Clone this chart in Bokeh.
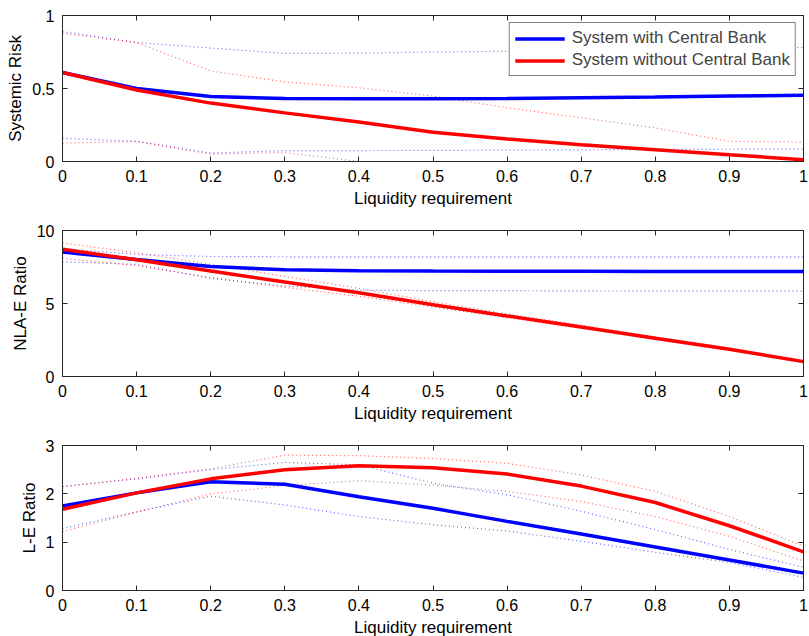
from bokeh.plotting import figure
from bokeh.layouts import column
from bokeh.models import (LinearAxis, FixedTicker, Range1d, Legend, LegendItem,
                          CustomJSTickFormatter)
from bokeh.embed import file_html
from bokeh.resources import INLINE

# ---------------- data ----------------
liquidity = [0.0, 0.1, 0.2, 0.3, 0.4, 0.5, 0.6, 0.7, 0.8, 0.9, 1.0]
x_ticks = [0.0, 0.1, 0.2, 0.3, 0.4, 0.5, 0.6, 0.7, 0.8, 0.9, 1.0]
x_tick_labels = ["0", "0.1", "0.2", "0.3", "0.4", "0.5", "0.6", "0.7", "0.8", "0.9", "1"]
x_title = "Liquidity requirement"
series_names = ["System with Central Bank", "System without Central Bank"]

# Systemic risk
risk_cb = [0.61, 0.50, 0.445, 0.432, 0.43, 0.43, 0.432, 0.437, 0.442, 0.448, 0.453]
risk_cb_hi = [0.89, 0.815, 0.777, 0.74, 0.742, 0.75, 0.755, 0.76, 0.768, 0.775, 0.78]
risk_cb_lo = [0.16, 0.138, 0.058, 0.075, 0.075, 0.076, 0.078, 0.08, 0.082, 0.084, 0.085]
risk_nocb = [0.61, 0.49, 0.40, 0.333, 0.271, 0.20, 0.154, 0.115, 0.081, 0.046, 0.012]
risk_nocb_hi = [0.878, 0.815, 0.62, 0.545, 0.505, 0.448, 0.368, 0.299, 0.23, 0.138, 0.133]
risk_nocb_lo = [0.126, 0.138, 0.05, 0.062, 0.0, -0.04, -0.07, -0.08, -0.09, -0.05, -0.1]
risk_ticks = [0, 0.5, 1]
risk_tick_labels = ["0", "0.5", "1"]

# NLA-E ratio
nla_cb = [8.52, 8.02, 7.54, 7.31, 7.24, 7.22, 7.21, 7.21, 7.2, 7.2, 7.2]
nla_cb_hi = [8.75, 8.36, 8.22, 8.2, 8.2, 8.2, 8.2, 8.2, 8.2, 8.2, 8.2]
nla_cb_lo = [7.86, 7.68, 6.72, 6.2, 5.92, 5.88, 5.88, 5.86, 5.85, 5.85, 5.85]
nla_nocb = [8.72, 7.99, 7.22, 6.47, 5.74, 4.92, 4.15, 3.39, 2.62, 1.87, 1.02]
nla_nocb_hi = [9.15, 8.47, 7.68, 6.85, 6.04, 5.12, 4.3, 3.5, 2.72, 1.95, 1.1]
nla_nocb_lo = [8.09, 7.6, 6.78, 6.1, 5.5, 4.75, 4.02, 3.3, 2.52, 1.79, 0.95]
nla_ticks = [0, 5, 10]
nla_tick_labels = ["0", "5", "10"]

# L-E ratio
le_cb = [1.75, 2.02, 2.25, 2.2, 1.94, 1.70, 1.43, 1.17, 0.90, 0.63, 0.36]
le_cb_hi = [2.15, 2.31, 2.5, 2.65, 2.6, 2.22, 1.98, 1.64, 1.26, 0.85, 0.48]
le_cb_lo = [1.28, 1.63, 1.95, 1.77, 1.53, 1.36, 1.23, 1.02, 0.79, 0.58, 0.27]
le_nocb = [1.68, 2.02, 2.31, 2.5, 2.58, 2.54, 2.41, 2.16, 1.82, 1.34, 0.80]
le_nocb_hi = [2.15, 2.32, 2.52, 2.8, 2.79, 2.73, 2.63, 2.39, 2.05, 1.53, 0.92]
le_nocb_lo = [1.22, 1.62, 2.0, 2.17, 2.27, 2.18, 2.05, 1.84, 1.53, 1.12, 0.61]
le_ticks = [0, 1, 2, 3]
le_tick_labels = ["0", "1", "2", "3"]

FONT = "Liberation Sans"
AX = "#262626"
BLUE = "#0000ff"
RED = "#ff0000"


def style_axis(ax, ticks, labels, standoff, show_labels=True):
    ax.ticker = FixedTicker(ticks=ticks)
    ax.major_tick_in = 5
    ax.major_tick_out = 0
    ax.minor_tick_in = 0
    ax.minor_tick_out = 0
    ax.axis_line_color = AX
    ax.major_tick_line_color = AX
    if show_labels:
        ax.major_label_overrides = dict(zip(ticks, labels))
        ax.major_label_text_font = FONT
        ax.major_label_text_font_size = "16px"
        ax.major_label_text_line_height = 1.0
        ax.major_label_text_color = "black"
        ax.major_label_standoff = standoff
        ax.axis_label_text_font = FONT
        ax.axis_label_text_font_size = "17px"
        ax.axis_label_text_line_height = 1.0
        ax.axis_label_text_font_style = "normal"
        ax.axis_label_text_color = "black"
    else:
        ax.formatter = CustomJSTickFormatter(code="return ''")
        ax.major_label_text_font_size = "0px"
        ax.major_label_standoff = 0


def panel(ylabel, yr, yticks, ylabels, cb, cb_hi, cb_lo, nocb, nocb_hi, nocb_lo,
          fh, bottom, legend=False):
    p = figure(frame_width=741, frame_height=fh,
               x_range=Range1d(0, 1), y_range=Range1d(*yr),
               output_backend="svg", toolbar_location=None,
               min_border_left=62, min_border_right=6,
               min_border_top=15, min_border_bottom=bottom)
    p.grid.visible = False
    p.outline_line_color = AX
    p.outline_line_width = 1
    p.background_fill_color = "white"
    p.border_fill_color = "white"

    style_axis(p.xaxis[0], x_ticks, x_tick_labels, 8)
    p.xaxis[0].axis_label = x_title
    p.xaxis[0].axis_label_standoff = 4
    style_axis(p.yaxis[0], yticks, ylabels, 8)
    p.yaxis[0].axis_label = ylabel
    p.yaxis[0].axis_label_standoff = 4

    top = LinearAxis()
    style_axis(top, x_ticks, x_tick_labels, 0, show_labels=False)
    p.add_layout(top, "above")
    right = LinearAxis()
    style_axis(right, yticks, ylabels, 0, show_labels=False)
    p.add_layout(right, "right")

    dot = dict(line_width=1.2, line_dash="1 3", line_alpha=0.6)
    p.line(liquidity, cb_hi, line_color=BLUE, **dot)
    p.line(liquidity, cb_lo, line_color=BLUE, **dot)
    p.line(liquidity, nocb_hi, line_color=RED, **dot)
    p.line(liquidity, nocb_lo, line_color=RED, **dot)
    r_cb = p.line(liquidity, cb, line_color=BLUE, line_width=3.5)
    r_nocb = p.line(liquidity, nocb, line_color=RED, line_width=3.5)

    if legend:
        lg = Legend(items=[LegendItem(label=series_names[0], renderers=[r_cb]),
                           LegendItem(label=series_names[1], renderers=[r_nocb])],
                    location="top_right", margin=7, padding=5, spacing=2,
                    glyph_width=50, glyph_height=19, label_height=19,
                    label_standoff=7, label_text_font=FONT,
                    label_text_font_size="17px",
                    border_line_color="black", border_line_width=1,
                    background_fill_color="white", background_fill_alpha=1)
        p.add_layout(lg, "center")
    return p


p1 = panel("Systemic Risk", (0, 1), risk_ticks, risk_tick_labels,
           risk_cb, risk_cb_hi, risk_cb_lo, risk_nocb, risk_nocb_hi, risk_nocb_lo,
           146, 54, legend=True)
p2 = panel("NLA-E Ratio", (0, 10), nla_ticks, nla_tick_labels,
           nla_cb, nla_cb_hi, nla_cb_lo, nla_nocb, nla_nocb_hi, nla_nocb_lo, 146, 54)
p3 = panel("L-E Ratio", (0, 3), le_ticks, le_tick_labels,
           le_cb, le_cb_hi, le_cb_lo, le_nocb, le_nocb_hi, le_nocb_lo, 145, 0)

layout = column(p1, p2, p3, spacing=0)
open("out.html", "w").write(file_html(layout, INLINE))
